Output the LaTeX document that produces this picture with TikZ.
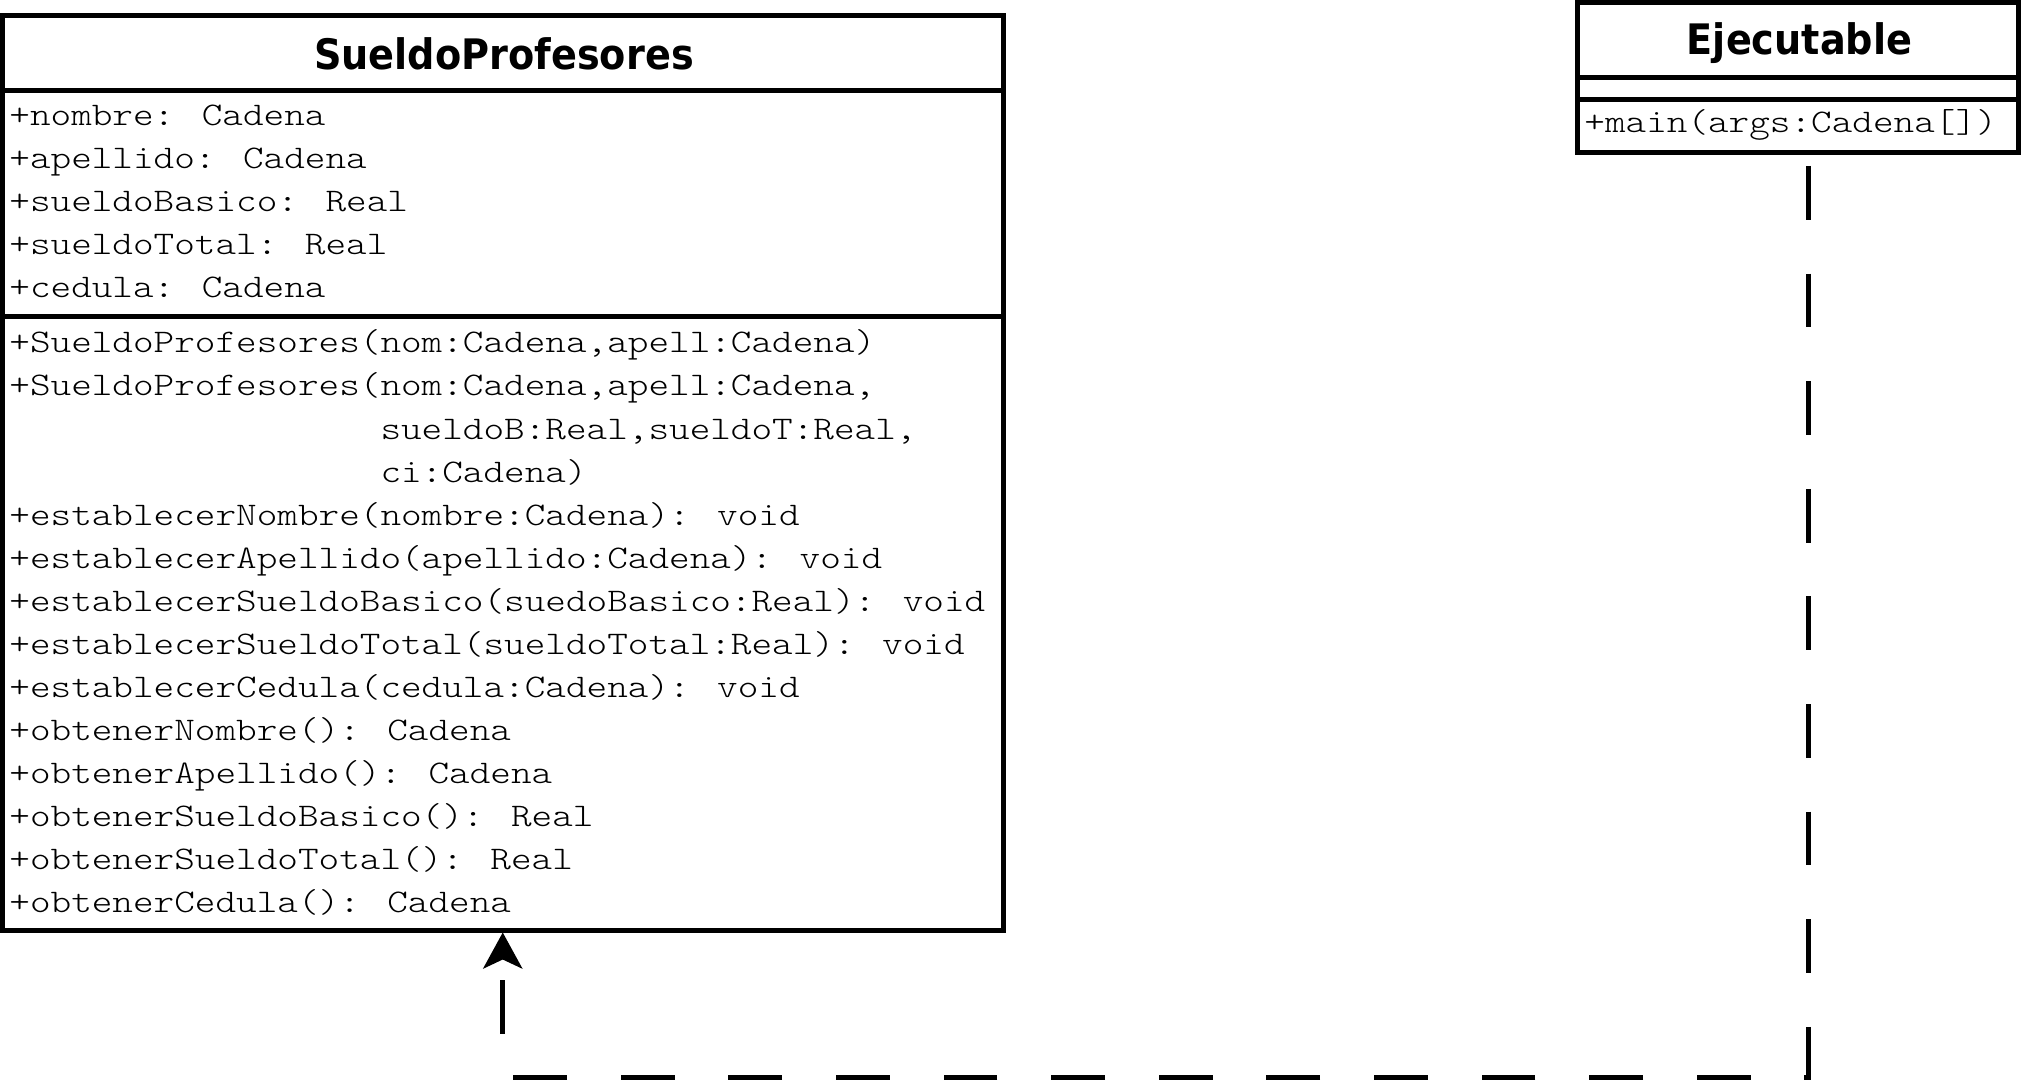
\documentclass[tikz,border=0pt]{standalone}
\usepackage{fontspec}
\newfontfamily\umlmono{Latin Modern Mono Light}
\newfontfamily\umltitle{DejaVu Sans}
\usetikzlibrary{arrows.meta,calc}
\newcommand\umlmem[1]{\scalebox{1.19}[1]{#1}}
\begin{document}
\begin{tikzpicture}[x=0.5pt,y=-0.5pt,
  compart/.style={draw=black, line width=2.5pt, rectangle, inner sep=0pt, fill=none},
  titletext/.style={inner sep=0pt, anchor=base, font=\umltitle\bfseries\fontsize{21}{25}\selectfont},
  membertext/.style={inner sep=0pt, anchor=base west, font=\umlmono\fontsize{16.5}{20}\selectfont},
  realize/.style={line width=2.5pt, black, dash pattern=on 26.9pt off 26.9pt, dash phase=48.3pt,
    -{Stealth[length=18pt, width=19.5pt, inset=4.5pt]}}
]
\useasboundingbox (0,0) rectangle (2023,1080);

% SueldoProfesores
\node[compart, minimum width=500.25pt, minimum height=37.75pt] (sph) at (502.75,53.25) {};
\node[compart, minimum width=500.25pt, minimum height=113pt] (spa) at (502.75,204) {};
\node[compart, minimum width=500.25pt, minimum height=306.5pt] (spm) at (502.75,623.5) {};
\node[titletext] (spt) at (504,70) {\scalebox{0.91}[1]{SueldoProfesores}};

\foreach \t [count=\i from 0] in {{+nombre: Cadena},{+apellido: Cadena},{+sueldoBasico: Real},{+sueldoTotal: Real},{+cedula: Cadena}}
  \node[membertext] (spattr\i) at (9,{126+43*\i}) {\umlmem{\t}};

\foreach \t [count=\i from 0] in {
  {+SueldoProfesores(nom:Cadena,apell:Cadena)},
  {+SueldoProfesores(nom:Cadena,apell:Cadena,},
  {\hphantom{+SueldoProfesores(}sueldoB:Real,sueldoT:Real,},
  {\hphantom{+SueldoProfesores(}ci:Cadena)},
  {+establecerNombre(nombre:Cadena): void},
  {+establecerApellido(apellido:Cadena): void},
  {+establecerSueldoBasico(suedoBasico:Real): void},
  {+establecerSueldoTotal(sueldoTotal:Real): void},
  {+establecerCedula(cedula:Cadena): void},
  {+obtenerNombre(): Cadena},
  {+obtenerApellido(): Cadena},
  {+obtenerSueldoBasico(): Real},
  {+obtenerSueldoTotal(): Real},
  {+obtenerCedula(): Cadena}}
  \node[membertext] (spmeth\i) at (9,{353+43*\i}) {\umlmem{\t}};

% Ejecutable
\node[compart, minimum width=220.5pt, minimum height=37.5pt] (ejh) at (1798,40) {};
\node[compart, minimum width=220.5pt, minimum height=11pt] (eja) at (1798,88.5) {};
\node[compart, minimum width=220.5pt, minimum height=26.5pt] (ejm) at (1798,126) {};
\node[titletext] (ejt) at (1799.5,55) {\scalebox{0.91}[1]{Ejecutable}};
\node[membertext] (ejmeth0) at (1584,133) {\umlmem{+main(args:Cadena[])}};

% dependency
\draw[realize] ([xshift=5pt]ejm.south) -- ++(0,922) -| (spm.south);
\end{tikzpicture}
\end{document}
